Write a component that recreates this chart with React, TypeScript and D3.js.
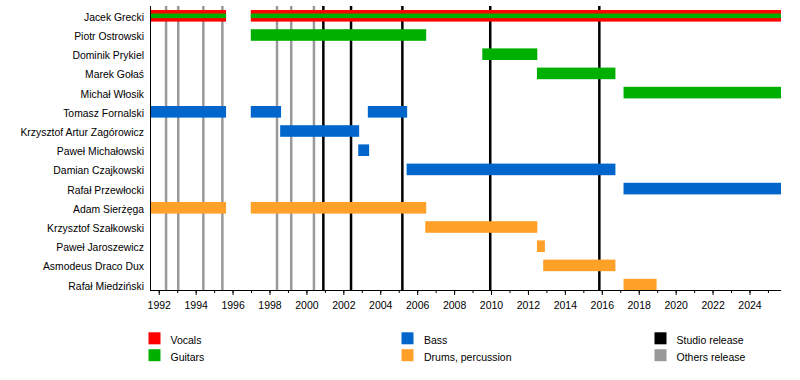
import React from "react";
import * as d3 from "d3";

const END = 2025.68;
const START = 1991.5;

const members = [
  "Jacek Grecki",
  "Piotr Ostrowski",
  "Dominik Prykiel",
  "Marek Gołaś",
  "Michał Włosik",
  "Tomasz Fornalski",
  "Krzysztof Artur Zagórowicz",
  "Paweł Michałowski",
  "Damian Czajkowski",
  "Rafał Przewłocki",
  "Adam Sierżęga",
  "Krzysztof Szałkowski",
  "Paweł Jaroszewicz",
  "Asmodeus Draco Dux",
  "Rafał Miedziński",
];

// [member, role, from, till]
const periods: [string, string, number, number][] = [
  ["Jacek Grecki", "vocguit", START, 1995.62],
  ["Jacek Grecki", "vocguit", 1996.96, END],
  ["Piotr Ostrowski", "guitars", 1996.96, 2006.46],
  ["Dominik Prykiel", "guitars", 2009.5, 2012.48],
  ["Marek Gołaś", "guitars", 2012.46, 2016.71],
  ["Michał Włosik", "guitars", 2017.15, END],
  ["Tomasz Fornalski", "bass", START, 1995.62],
  ["Tomasz Fornalski", "bass", 1996.96, 1998.6],
  ["Tomasz Fornalski", "bass", 2003.3, 2005.43],
  ["Krzysztof Artur Zagórowicz", "bass", 1998.55, 2002.83],
  ["Paweł Michałowski", "bass", 2002.78, 2003.37],
  ["Damian Czajkowski", "bass", 2005.4, 2016.71],
  ["Rafał Przewłocki", "bass", 2017.15, END],
  ["Adam Sierżęga", "drums", START, 1995.62],
  ["Adam Sierżęga", "drums", 1996.96, 2006.46],
  ["Krzysztof Szałkowski", "drums", 2006.41, 2012.48],
  ["Paweł Jaroszewicz", "drums", 2012.46, 2012.89],
  ["Asmodeus Draco Dux", "drums", 2012.8, 2016.71],
  ["Rafał Miedziński", "drums", 2017.15, 2018.94],
];

const studioReleases = [2000.89, 2002.39, 2005.17, 2009.93, 2015.84];
const otherReleases = [1992.37, 1993.03, 1994.39, 1995.42, 1998.38, 1999.15, 2000.38];

const majorTicks = d3.range(1992, 2025, 2);
const minorTicks = d3.range(1992, 2026, 1);

const legendItems: [string, string][] = [
  ["Vocals", "vocals"],
  ["Guitars", "guitars"],
  ["Bass", "bass"],
  ["Drums, percussion", "drums"],
  ["Studio release", "studio"],
  ["Others release", "others"],
];

const colors: Record<string, string> = {
  vocals: "#ff0000",
  guitars: "#00b000",
  bass: "#0066cc",
  drums: "#ffa128",
  studio: "#000000",
  others: "#999999",
};

const FONT = "'Liberation Sans', Arial, sans-serif";

export default function App() {
  const W = 800;
  const H = 380;
  const x = d3.scaleLinear().domain([START, END]).range([150, 781]);
  const y = d3.scalePoint<string>().domain(members).range([15.8, 284.6]);
  const barH = 11.6;
  const axisY = 290;
  const plotTop = 6;

  return (
    <svg
      width={W}
      height={H}
      style={{ position: "absolute", left: 0, top: 0, background: "#fff" }}
      fontFamily={FONT}
    >
      <rect x={0} y={0} width={W} height={H} fill="#fff" />
      {/* release lines */}
      {otherReleases.map((d, i) => (
        <line key={"o" + i} x1={x(d)} x2={x(d)} y1={plotTop} y2={axisY} stroke={colors.others} strokeWidth={2.5} />
      ))}
      {studioReleases.map((d, i) => (
        <line key={"s" + i} x1={x(d)} x2={x(d)} y1={plotTop} y2={axisY} stroke={colors.studio} strokeWidth={2.5} />
      ))}
      {/* bars */}
      {periods.map(([m, role, a, b], i) => {
        const cy = y(m)!;
        if (role === "vocguit") {
          return (
            <g key={i}>
              <rect x={x(a)} y={cy - barH / 2} width={x(b) - x(a)} height={barH} fill={colors.vocals} />
              <rect x={x(a)} y={cy - 2.3} width={x(b) - x(a)} height={4.6} fill={colors.guitars} />
            </g>
          );
        }
        return <rect key={i} x={x(a)} y={cy - barH / 2} width={x(b) - x(a)} height={barH} fill={colors[role]} />;
      })}
      {/* axes */}
      <line x1={150.5} x2={150.5} y1={plotTop} y2={axisY} stroke="#000" strokeWidth={1} />
      <line x1={150} x2={781} y1={axisY + 0.5} y2={axisY + 0.5} stroke="#000" strokeWidth={1} />
      {minorTicks.map((t) => (
        <line key={"mt" + t} x1={x(t)} x2={x(t)} y1={axisY} y2={axisY + 3} stroke="#000" strokeWidth={1} />
      ))}
      {majorTicks.map((t) => (
        <g key={"Mt" + t}>
          <line x1={x(t)} x2={x(t)} y1={axisY} y2={axisY + 5} stroke="#000" strokeWidth={1} />
          <text x={x(t)} y={309} textAnchor="middle" fontSize={10.5} fill="#000">
            {t}
          </text>
        </g>
      ))}
      {/* member labels */}
      {members.map((m) => (
        <text key={m} x={144} y={y(m)! + 5} textAnchor="end" fontSize={10.4} fill="#000">
          {m}
        </text>
      ))}
      {/* legend */}
      {legendItems.map(([label, key], i) => {
        const col = Math.floor(i / 2);
        const row = i % 2;
        const lx = [148.5, 401.5, 654.5][col];
        const tx = [170.5, 424, 676.5][col];
        const top = 332.3 + row * 16.9;
        return (
          <g key={label}>
            <rect x={lx} y={top} width={12} height={12} fill={colors[key]} />
            <text x={tx} y={top + 11.7} fontSize={10.5} fill="#000">
              {label}
            </text>
          </g>
        );
      })}
    </svg>
  );
}
